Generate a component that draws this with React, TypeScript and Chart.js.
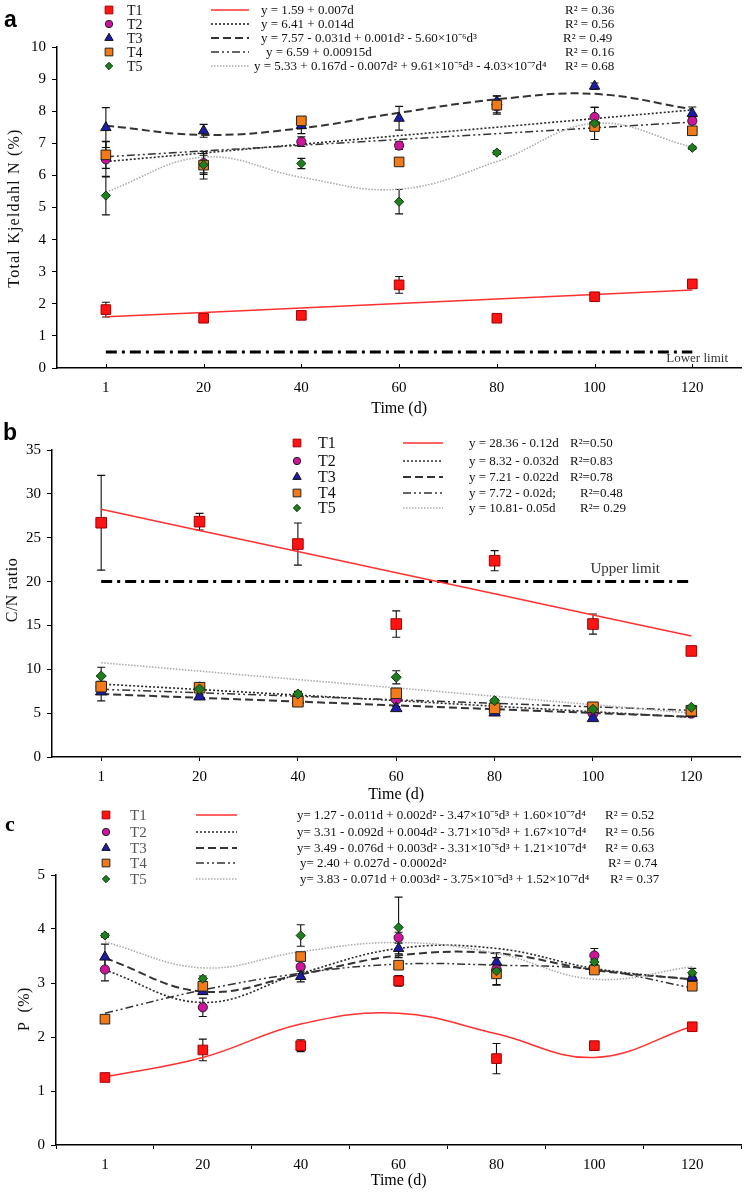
import React, { useEffect, useRef } from 'react';
import { Chart, registerables } from 'chart.js';

Chart.register(...registerables);

// ---------- shared categories ----------
const DAYS = ['1', '20', '40', '60', '80', '100', '120'];
const SERIES = ['T1', 'T2', 'T3', 'T4', 'T5'];

// ---------- panel a : Total Kjeldahl N (%) ----------
const N_T1 = [1.82, 1.55, 1.64, 2.59, 1.55, 2.22, 2.62];
const N_T2 = [6.5, 6.38, 7.05, 6.93, 8.15, 7.82, 7.7];
const N_T3 = [7.49, 7.39, 7.55, 7.78, 8.3, 8.78, 7.93];
const N_T4 = [6.64, 6.32, 7.7, 6.42, 8.19, 7.52, 7.39];
const N_T5 = [5.37, 6.33, 6.37, 5.18, 6.71, 7.62, 6.86];
const N_T1_ERR = [0.23, 0.04, 0.04, 0.26, 0.03, 0.06, 0.05];
const N_T2_ERR = [0.55, 0.3, 0.15, 0.12, 0.2, 0.3, 0.1];
const N_T3_ERR = [0.62, 0.2, 0.25, 0.37, 0.18, 0.1, 0.2];
const N_T4_ERR = [0.42, 0.43, 0.1, 0.08, 0.28, 0.1, 0.08];
const N_T5_ERR = [0.6, 0.3, 0.16, 0.38, 0.06, 0.5, 0.05];
const N_FIT_T1 = [1.6, 1.73, 1.87, 2.01, 2.15, 2.29, 2.43];
const N_FIT_T2 = [6.43, 6.7, 6.97, 7.24, 7.5, 7.77, 8.04];
const N_FIT_T3 = [7.55, 7.26, 7.47, 7.95, 8.37, 8.54, 8.06];
const N_FIT_T4 = [6.58, 6.76, 6.94, 7.12, 7.3, 7.48, 7.66];
const N_FIT_T5 = [5.48, 6.57, 5.94, 5.57, 6.43, 7.62, 6.88];
const N_LIMIT = [0.5, 0.5, 0.5, 0.5, 0.5, 0.5, 0.5];
const N_EQ = [
  'y = 1.59 + 0.007d',
  'y = 6.41 + 0.014d',
  'y = 7.57 - 0.031d + 0.001d² - 5.60×10⁻⁶d³',
  'y = 6.59 + 0.00915d',
  'y = 5.33 + 0.167d - 0.007d² + 9.61×10⁻⁵d³ - 4.03×10⁻⁷d⁴',
];
const N_R2 = ['R² = 0.36', 'R² = 0.56', 'R² = 0.49', 'R² = 0.16', 'R² = 0.68'];

// ---------- panel b : C/N ratio ----------
const CN_T1 = [26.71, 26.83, 24.28, 15.16, 22.38, 15.16, 12.09];
const CN_T2 = [8.0, 7.95, 6.9, 6.58, 5.4, 4.98, 5.0];
const CN_T3 = [7.45, 6.88, 6.5, 5.55, 5.05, 4.41, 4.98];
const CN_T4 = [8.02, 7.9, 6.3, 7.26, 5.55, 5.67, 5.28];
const CN_T5 = [9.23, 7.75, 7.18, 9.09, 6.42, 5.44, 5.67];
const CN_T1_ERR = [5.4, 0.95, 2.4, 1.5, 1.15, 1.15, 0.4];
const CN_T2_ERR = [0.3, 0.3, 0.2, 0.2, 0.2, 0.2, 0.2];
const CN_T3_ERR = [1.05, 0.2, 0.2, 0.2, 0.2, 0.2, 0.2];
const CN_T4_ERR = [0.6, 0.4, 0.3, 0.3, 0.5, 0.3, 0.3];
const CN_T5_ERR = [1.0, 0.3, 0.3, 0.75, 0.2, 0.2, 0.2];
const CN_FIT_T1 = [28.24, 25.83, 23.42, 21.01, 18.61, 16.2, 13.79];
const CN_FIT_T2 = [8.32, 7.69, 7.06, 6.43, 5.79, 5.16, 4.53];
const CN_FIT_T3 = [7.18, 6.75, 6.32, 5.88, 5.45, 5.02, 4.59];
const CN_FIT_T4 = [7.72, 7.32, 6.92, 6.52, 6.12, 5.72, 5.32];
const CN_FIT_T5 = [10.75, 9.79, 8.83, 7.88, 6.92, 5.96, 5.0];
const CN_LIMIT = [20, 20, 20, 20, 20, 20, 20];
const CN_EQ = [
  'y = 28.36 - 0.12d',
  'y = 8.32 - 0.032d',
  'y = 7.21 - 0.022d',
  'y = 7.72 - 0.02d;',
  'y = 10.81- 0.05d',
];
const CN_R2 = ['R²=0.50', 'R²=0.83', 'R²=0.78', 'R²=0.48', 'R²= 0.29'];

// ---------- panel c : P (%) ----------
const P_T1 = [1.25, 1.76, 1.84, 3.04, 1.6, 1.84, 2.19];
const P_T2 = [3.25, 2.55, 3.3, 3.84, 3.26, 3.51, 3.06];
const P_T3 = [3.48, 2.84, 3.12, 3.64, 3.39, 3.25, 3.1];
const P_T4 = [2.33, 2.94, 3.49, 3.33, 3.17, 3.24, 2.94];
const P_T5 = [3.88, 3.08, 3.88, 4.03, 3.22, 3.39, 3.19];
const P_T1_ERR = [0.03, 0.2, 0.11, 0.1, 0.28, 0.03, 0.03];
const P_T2_ERR = [0.21, 0.17, 0.05, 0.1, 0.3, 0.13, 0.05];
const P_T3_ERR = [0.24, 0.05, 0.1, 0.1, 0.08, 0.05, 0.05];
const P_T4_ERR = [0.05, 0.05, 0.05, 0.05, 0.05, 0.05, 0.05];
const P_T5_ERR = [0.03, 0.05, 0.2, 0.56, 0.25, 0.05, 0.08];
const P_FIT_T1 = [1.26, 1.62, 2.24, 2.44, 2.06, 1.62, 2.2];
const P_FIT_T2 = [3.24, 2.64, 3.18, 3.64, 3.64, 3.27, 3.06];
const P_FIT_T3 = [3.46, 2.84, 3.16, 3.51, 3.55, 3.24, 3.07];
const P_FIT_T4 = [2.44, 2.87, 3.18, 3.35, 3.33, 3.25, 2.91];
const P_FIT_T5 = [3.76, 3.28, 3.58, 3.75, 3.55, 3.07, 3.3];
const P_EQ = [
  'y= 1.27 - 0.011d + 0.002d² - 3.47×10⁻⁵d³ + 1.60×10⁻⁷d⁴',
  'y= 3.31 - 0.092d + 0.004d² - 3.71×10⁻⁵d³ + 1.67×10⁻⁷d⁴',
  'y= 3.49 - 0.076d + 0.003d² - 3.31×10⁻⁵d³ + 1.21×10⁻⁷d⁴',
  'y= 2.40 + 0.027d - 0.0002d²',
  'y= 3.83 - 0.071d + 0.003d² - 3.75×10⁻⁵d³ + 1.52×10⁻⁷d⁴',
];
const P_R2 = ['R² = 0.52', 'R² = 0.56', 'R² = 0.63', 'R² = 0.74', 'R² = 0.37'];

// ---------- styles ----------
const SERIF = "'Liberation Serif', 'Times New Roman', serif";
const SANS = "'Liberation Sans', Arial, sans-serif";
const COLORS = ['#ff1414', '#d0139c', '#1c1ca8', '#f27a18', '#1f7d1f'];
const BORDERS = ['#a00000', '#222222', '#111111', '#222222', '#0a3a0a'];
const STYLES = ['rect', 'circle', 'triangle', 'rect', 'rectRot'];
const RADII = [6.8, 4.6, 6, 6.8, 4.6];
const FIT_COLORS = ['#ff3030', '#2a2a2a', '#333333', '#333333', '#ababab'];
const FIT_DASH = [[], [2, 2], [8, 4], [8, 3, 2, 3, 2, 3], [1.5, 1.5]];
const FIT_WIDTH = [1.5, 1.6, 2, 1.5, 1.6];

interface LegendDef {
  markerX: number;
  rows: number[];
  textX: number;
  lineX0: number;
  lineX1: number;
  eqX: number[];
  r2X: number[];
  eq: string[];
  r2: string[];
  tFont: string;
  eqFont: string;
  tColor: string;
}

interface PanelDef {
  top: number;
  height: number;
  padTop: number;
  padRight: number;
  yWidth: number;
  xHeight: number;
  yMax: number;
  yStep: number;
  letter: string;
  letterFont: string;
  letterX: number;
  letterY: number;
  yTitle: string;
  yTitleX: number;
  yTitleY: number;
  yTitleFont: string;
  yTitleSpacing: string;
  values: number[][];
  errors: number[][];
  fits: number[][];
  fitTension: number[];
  limit?: number[];
  limitText?: string;
  limitTextX?: number;
  limitTextY?: number;
  limitFont?: string;
  xTicks: 'in' | 'out' | 'edge';
  markerScale: number;
  legend: LegendDef;
}

const PANELS: PanelDef[] = [
  {
    top: 0, height: 420, padTop: 47, padRight: 1, yWidth: 57, xHeight: 52,
    yMax: 10, yStep: 1,
    letter: 'a', letterFont: `bold 23px ${SANS}`, letterX: 4, letterY: 27,
    yTitle: 'Total Kjeldahl N (%)', yTitleX: 15, yTitleY: 208, yTitleFont: `16px ${SERIF}`, yTitleSpacing: '1.2px',
    values: [N_T1, N_T2, N_T3, N_T4, N_T5],
    errors: [N_T1_ERR, N_T2_ERR, N_T3_ERR, N_T4_ERR, N_T5_ERR],
    fits: [N_FIT_T1, N_FIT_T2, N_FIT_T3, N_FIT_T4, N_FIT_T5],
    fitTension: [0, 0, 0.4, 0, 0.4],
    limit: N_LIMIT, limitText: 'Lower limit', limitTextX: 728, limitTextY: 359, limitFont: `13px ${SERIF}`,
    xTicks: 'in', markerScale: 1,
    legend: {
      markerX: 109, rows: [10, 24, 38, 52, 66], textX: 127, lineX0: 211, lineX1: 249,
      eqX: [261, 261, 261, 266, 254], r2X: [565, 565, 563, 565, 565],
      eq: N_EQ, r2: N_R2, tFont: `14px ${SERIF}`, eqFont: `13px ${SERIF}`, tColor: '#111',
    },
  },
  {
    top: 420, height: 386, padTop: 30, padRight: 4, yWidth: 52, xHeight: 49,
    yMax: 35, yStep: 5,
    letter: 'b', letterFont: `bold 23px ${SANS}`, letterX: 3, letterY: 20,
    yTitle: 'C/N ratio', yTitleX: 13, yTitleY: 170, yTitleFont: `16px ${SERIF}`, yTitleSpacing: '0.5px',
    values: [CN_T1, CN_T2, CN_T3, CN_T4, CN_T5],
    errors: [CN_T1_ERR, CN_T2_ERR, CN_T3_ERR, CN_T4_ERR, CN_T5_ERR],
    fits: [CN_FIT_T1, CN_FIT_T2, CN_FIT_T3, CN_FIT_T4, CN_FIT_T5],
    fitTension: [0, 0, 0, 0, 0],
    limit: CN_LIMIT, limitText: 'Upper limit', limitTextX: 660, limitTextY: 149, limitFont: `15px ${SERIF}`,
    xTicks: 'out', markerScale: 1.1,
    legend: {
      markerX: 297, rows: [23, 41, 57, 73, 88], textX: 318, lineX0: 403, lineX1: 443,
      eqX: [469, 469, 469, 469, 469], r2X: [570, 570, 570, 580, 580],
      eq: CN_EQ, r2: CN_R2, tFont: `16px ${SERIF}`, eqFont: `13px ${SERIF}`, tColor: '#111',
    },
  },
  {
    top: 806, height: 386, padTop: 69, padRight: 4, yWidth: 56, xHeight: 47,
    yMax: 5, yStep: 1,
    letter: 'c', letterFont: `bold 22px ${SERIF}`, letterX: 5, letterY: 25,
    yTitle: 'P  (%)', yTitleX: 25, yTitleY: 203, yTitleFont: `16px ${SERIF}`, yTitleSpacing: '0.5px',
    values: [P_T1, P_T2, P_T3, P_T4, P_T5],
    errors: [P_T1_ERR, P_T2_ERR, P_T3_ERR, P_T4_ERR, P_T5_ERR],
    fits: [P_FIT_T1, P_FIT_T2, P_FIT_T3, P_FIT_T4, P_FIT_T5],
    fitTension: [0.4, 0.4, 0.4, 0.4, 0.4],
    xTicks: 'edge', markerScale: 1,
    legend: {
      markerX: 106, rows: [9, 26, 42, 57, 73], textX: 130, lineX0: 196, lineX1: 237,
      eqX: [297, 297, 297, 300, 300], r2X: [605, 605, 605, 608, 610],
      eq: P_EQ, r2: P_R2, tFont: `15px ${SERIF}`, eqFont: `13px ${SERIF}`, tColor: '#555',
    },
  },
];

function drawMarker(ctx: CanvasRenderingContext2D, style: string, x: number, y: number, r: number, fill: string, stroke: string) {
  ctx.save();
  ctx.fillStyle = fill;
  ctx.strokeStyle = stroke;
  ctx.lineWidth = 1;
  ctx.setLineDash([]);
  ctx.beginPath();
  if (style === 'rect') {
    const s = r * Math.SQRT1_2;
    ctx.rect(x - s, y - s, 2 * s, 2 * s);
  } else if (style === 'circle') {
    ctx.arc(x, y, r, 0, Math.PI * 2);
  } else if (style === 'triangle') {
    ctx.moveTo(x, y - r);
    ctx.lineTo(x + r * 0.866, y + r * 0.5);
    ctx.lineTo(x - r * 0.866, y + r * 0.5);
    ctx.closePath();
  } else {
    ctx.moveTo(x, y - r);
    ctx.lineTo(x + r, y);
    ctx.lineTo(x, y + r);
    ctx.lineTo(x - r, y);
    ctx.closePath();
  }
  ctx.fill();
  ctx.stroke();
  ctx.restore();
}

function makeDecor(def: PanelDef) {
  return {
    id: 'decor',
    beforeDatasetsDraw(chart: any) {
      const ctx: CanvasRenderingContext2D = chart.ctx;
      const xs = chart.scales.x;
      const ys = chart.scales.y;
      ctx.save();
      ctx.strokeStyle = '#111';
      ctx.lineWidth = 1.1;
      ctx.setLineDash([]);
      def.values.forEach((vals, s) => {
        vals.forEach((v, i) => {
          const e = def.errors[s][i];
          if (!e) return;
          const x = xs.getPixelForValue(i);
          const y1 = ys.getPixelForValue(v + e);
          const y2 = ys.getPixelForValue(v - e);
          ctx.beginPath();
          ctx.moveTo(x, y1);
          ctx.lineTo(x, y2);
          ctx.moveTo(x - 4, y1);
          ctx.lineTo(x + 4, y1);
          ctx.moveTo(x - 4, y2);
          ctx.lineTo(x + 4, y2);
          ctx.stroke();
        });
      });
      ctx.restore();
    },
    afterDraw(chart: any) {
      const ctx: CanvasRenderingContext2D = chart.ctx;
      const xs = chart.scales.x;
      const area = chart.chartArea;
      ctx.save();
      if (def.xTicks === 'in') {
        ctx.strokeStyle = '#000';
        ctx.lineWidth = 1;
        DAYS.forEach((_, i) => {
          const x = Math.round(xs.getPixelForValue(i)) + 0.5;
          ctx.beginPath();
          ctx.moveTo(x, area.bottom);
          ctx.lineTo(x, area.bottom - 4);
          ctx.stroke();
        });
      }
      ctx.fillStyle = '#000';
      ctx.font = def.letterFont;
      ctx.textAlign = 'left';
      ctx.textBaseline = 'alphabetic';
      ctx.fillText(def.letter, def.letterX, def.letterY);
      ctx.save();
      ctx.translate(def.yTitleX, def.yTitleY);
      ctx.rotate(-Math.PI / 2);
      ctx.font = def.yTitleFont;
      (ctx as any).letterSpacing = def.yTitleSpacing;
      ctx.textAlign = 'center';
      ctx.textBaseline = 'middle';
      ctx.fillStyle = '#111';
      ctx.fillText(def.yTitle, 0, 0);
      ctx.restore();
      if (def.limitText) {
        ctx.font = def.limitFont!;
        ctx.fillStyle = '#333';
        ctx.textAlign = 'right';
        ctx.textBaseline = 'middle';
        ctx.fillText(def.limitText, def.limitTextX!, def.limitTextY!);
      }
      const L = def.legend;
      L.rows.forEach((y, s) => {
        drawMarker(ctx, STYLES[s], L.markerX, y, RADII[s] * 0.8, COLORS[s], BORDERS[s]);
        ctx.font = L.tFont;
        ctx.fillStyle = L.tColor;
        ctx.textAlign = 'left';
        ctx.textBaseline = 'middle';
        ctx.fillText(SERIES[s], L.textX, y + 1);
        ctx.save();
        ctx.strokeStyle = FIT_COLORS[s];
        ctx.lineWidth = FIT_WIDTH[s];
        ctx.setLineDash(FIT_DASH[s]);
        ctx.beginPath();
        ctx.moveTo(L.lineX0, y);
        ctx.lineTo(L.lineX1, y);
        ctx.stroke();
        ctx.restore();
        ctx.font = L.eqFont;
        ctx.fillStyle = '#111';
        ctx.fillText(L.eq[s], L.eqX[s], y + 1);
        ctx.fillText(L.r2[s], L.r2X[s], y + 1);
      });
      ctx.restore();
    },
  };
}

function buildConfig(def: PanelDef): any {
  const datasets: any[] = [];
  def.fits.forEach((f, s) => {
    datasets.push({
      label: `${SERIES[s]} fit`,
      data: f,
      borderColor: FIT_COLORS[s],
      borderDash: FIT_DASH[s],
      borderWidth: FIT_WIDTH[s],
      pointRadius: 0,
      tension: def.fitTension[s],
      fill: false,
      order: 20 - s,
    });
  });
  if (def.limit) {
    datasets.push({
      label: def.limitText,
      data: def.limit,
      borderColor: '#000',
      borderWidth: 3,
      borderDash: [11, 5, 3, 5],
      pointRadius: 0,
      fill: false,
      order: 30,
    });
  }
  def.values.forEach((v, s) => {
    datasets.push({
      label: SERIES[s],
      data: v,
      showLine: false,
      pointStyle: STYLES[s],
      pointRadius: RADII[s] * def.markerScale,
      pointBackgroundColor: COLORS[s],
      pointBorderColor: BORDERS[s],
      pointBorderWidth: 1,
      order: 5 - s,
    });
  });
  return {
    type: 'line',
    data: { labels: DAYS, datasets },
    options: {
      responsive: false,
      animation: false,
      events: [],
      layout: { padding: { top: def.padTop, right: def.padRight, left: 0, bottom: 0 } },
      plugins: { legend: { display: false }, tooltip: { enabled: false }, title: { display: false } },
      scales: {
        x: {
          type: 'category',
          offset: true,
          grid: {
            display: true,
            drawOnChartArea: false,
            drawTicks: def.xTicks !== 'in',
            tickLength: 4,
            offset: def.xTicks === 'edge',
            color: '#000',
            lineWidth: 1,
          },
          border: { display: true, color: '#000', width: 1.5 },
          ticks: {
            color: '#000',
            font: { family: SERIF, size: 15 },
            padding: def.xTicks === 'in' ? 11 : 7,
            maxRotation: 0,
            autoSkip: false,
          },
          title: {
            display: true,
            text: 'Time (d)',
            color: '#000',
            font: { family: SERIF, size: 16 },
            padding: { top: 0, bottom: 2 },
          },
          afterFit: (s: any) => { s.height = def.xHeight; },
        },
        y: {
          type: 'linear',
          min: 0,
          max: def.yMax,
          ticks: { stepSize: def.yStep, color: '#000', font: { family: SERIF, size: 15 }, padding: 6 },
          grid: { display: true, drawOnChartArea: false, drawTicks: true, tickLength: 5, color: '#000' },
          border: { display: true, color: '#000', width: 1.5 },
          afterFit: (s: any) => { s.width = def.yWidth; },
        },
      },
    },
    plugins: [makeDecor(def)],
  };
}

function Panel({ def }: { def: PanelDef }) {
  const ref = useRef<HTMLCanvasElement>(null);
  useEffect(() => {
    const chart = new Chart(ref.current as HTMLCanvasElement, buildConfig(def));
    return () => chart.destroy();
  }, [def]);
  return (
    <canvas
      ref={ref}
      width={749}
      height={def.height}
      style={{ position: 'absolute', left: 0, top: def.top, width: 749, height: def.height }}
    />
  );
}

export default function App() {
  return (
    <div style={{ position: 'absolute', left: 0, top: 0, width: 749, height: 1192, background: '#fff', overflow: 'hidden' }}>
      {PANELS.map((p, i) => (
        <Panel key={i} def={p} />
      ))}
    </div>
  );
}
